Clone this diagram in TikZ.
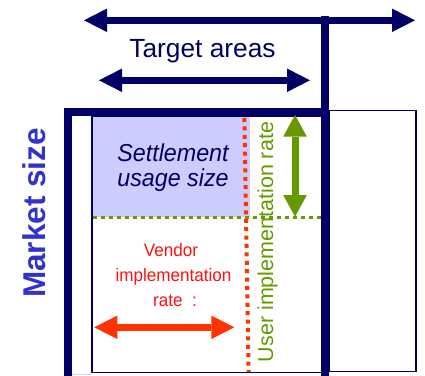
\documentclass[tikz,border=0pt]{standalone}
\usepackage{fontspec}
\setmainfont{Liberation Sans}
\newfontfamily\narrowsans[FakeStretch=0.95]{Liberation Sans}
\usetikzlibrary{arrows.meta}
\definecolor{navy}{RGB}{0,0,102}
\definecolor{lavender}{RGB}{204,204,255}
\definecolor{mktblue}{RGB}{51,51,204}
\definecolor{olive}{RGB}{102,153,0}
\definecolor{vendred}{RGB}{255,51,0}
\definecolor{vendtext}{RGB}{255,17,17}
\tikzset{
  bigtip/.tip={Triangle[width=23.5pt,length=23pt,line width=0pt]},
  greentip/.tip={Triangle[width=23.5pt,length=21.5pt,line width=0pt]},
  thickrule/.style={navy,line width=8pt,line join=miter},
  thinrule/.style={navy,line width=1.5pt},
  bigarrow/.style={line width=7.3pt,{bigtip}-{bigtip}},
  label/.style={inner sep=0pt,anchor=base},
}
\begin{document}
\begin{tikzpicture}[x=1pt,y=-1pt]
\useasboundingbox (0,0) rectangle (425,375);

% settlement region
\fill[lavender] (92,116) rectangle (250,216.5);

% inner and right-hand thin frames
\draw[thinrule] (92,116) rectangle (322,372.5);
\draw[thinrule] (329,110.7) rectangle (416,371.7);
\draw[lavender!70!navy!40,line width=1.2pt] (72,374.5) -- (92,374.5);

% thick market frame and the vertical divider
\coordinate (frameBL) at (67.5,380);
\coordinate (frameTR) at (325,112);
\draw[thickrule] (frameBL) |- (frameTR);
\coordinate (divTop) at (325,16);
\coordinate (divBot) at (325,380);
\draw[thickrule] (divTop) -- (divBot);

% dotted guide lines
\coordinate (redTop) at (244.4,118);
\coordinate (redBot) at (248.6,372);
\draw[vendred,line width=4pt,dash pattern=on 4pt off 4.4pt] (redTop) -- (redBot);
\coordinate (grnL) at (93,217.3);
\coordinate (grnR) at (322,217.3);
\draw[olive,line width=3.5pt,dash pattern=on 3.5pt off 4.5pt] (grnL) -- (grnR);

% top double arrows
\coordinate (topL) at (84,20.3);
\coordinate (topR) at (415,20.3);
\draw[navy,bigarrow] (topL) -- (topR);
\coordinate (tgtL) at (99,80.3);
\coordinate (tgtR) at (310,80.3);
\draw[navy,bigarrow] (tgtL) -- (tgtR);

% user implementation arrow
\coordinate (usrTop) at (295,115);
\coordinate (usrBot) at (295,216.7);
\draw[olive,line width=7pt,{greentip}-{greentip}] (usrTop) -- (usrBot);

% vendor implementation arrow
\coordinate (venL) at (94.3,327.3);
\coordinate (venR) at (234.3,327.3);
\draw[vendred,bigarrow] (venL) -- (venR);

% texts
\node[label,navy,font=\fontsize{26.3}{28}\selectfont] (target) at (202.5,57) {Target areas};
\node[label,navy,font=\narrowsans\itshape\fontsize{24.5}{26}\selectfont] (settleA) at (173,161.7) {Settlement};
\node[label,navy,font=\narrowsans\itshape\fontsize{24.5}{26}\selectfont] (settleB) at (173,186.7) {usage size};
\node[label,vendtext,font=\narrowsans\fontsize{18}{20}\selectfont] (vendA) at (171,256.7) {Vendor};
\node[label,vendtext,font=\narrowsans\fontsize{18}{20}\selectfont] (vendB) at (173.5,281) {implementation};
\node[label,vendtext,font=\narrowsans\fontsize{18}{20}\selectfont] (vendC) at (175,306) {rate\ \ :};
\node[label,mktblue,rotate=90,font=\bfseries\fontsize{31.5}{33}\selectfont] (market) at (45,213) {Market size};
\node[label,olive,rotate=90,font=\fontsize{21.5}{23}\selectfont] (user) at (273,242) {User implementation rate};
\end{tikzpicture}
\end{document}
